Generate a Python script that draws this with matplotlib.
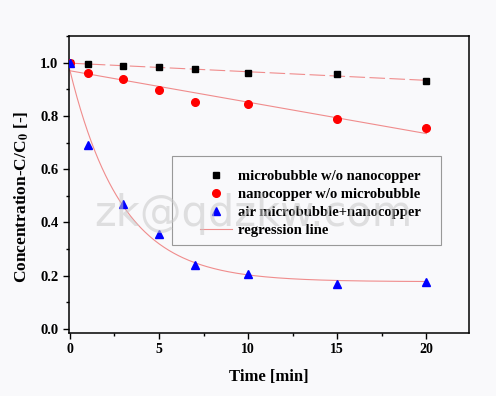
import numpy as np
import matplotlib
matplotlib.use("Agg")
import matplotlib.pyplot as plt
from matplotlib.ticker import MultipleLocator
from matplotlib.patches import Rectangle

plt.rcParams['font.family'] = ['Liberation Serif', 'DejaVu Serif']
plt.rcParams['font.weight'] = 'bold'
plt.rcParams['mathtext.fontset'] = 'stix'

time = [0, 1, 3, 5, 7, 10, 15, 20]
mb_only = [1.0, 0.995, 0.987, 0.982, 0.977, 0.960, 0.957, 0.931]
nc_only = [1.0, 0.962, 0.937, 0.899, 0.852, 0.844, 0.789, 0.755]
mb_nc = [1.0, 0.690, 0.469, 0.356, 0.242, 0.207, 0.168, 0.176]
labels = ["microbubble w/o nanocopper", "nanocopper w/o microbubble",
          "air microbubble+nanocopper", "regression line"]

t = np.array(time, float)

def linfit(y):
    return np.polyfit(t, np.array(y), 1)

def expfit(y):
    y = np.array(y)
    best = None
    for k in np.linspace(0.05, 1.5, 2000):
        A = np.vstack([np.ones_like(t), np.exp(-k * t)]).T
        coef, *_ = np.linalg.lstsq(A, y, rcond=None)
        r = np.sum((A @ coef - y) ** 2)
        if best is None or r < best[0]:
            best = (r, k, coef)
    return best[1], best[2]

bg = '#f9f9fb'
fig = plt.figure(figsize=(4.96, 3.96), dpi=100, facecolor=bg)
ax = fig.add_axes([0.139, 0.159, 0.807, 0.750])
ax.set_facecolor(bg)

tt = np.linspace(0, 20, 300)
lc = '#f08c8c'
p1 = linfit(mb_only)
ax.plot(tt, np.polyval(p1, tt), color=lc, lw=0.8, dashes=(14, 4), zorder=1)
p2 = linfit(nc_only)
ax.plot(tt, np.polyval(p2, tt), color=lc, lw=0.8, zorder=1)
k, c = expfit(mb_nc)
ax.plot(tt, c[0] + c[1] * np.exp(-k * tt), color=lc, lw=0.8, zorder=1)

ax.plot(time, mb_only, 's', color='black', ms=5, zorder=3, label=labels[0])
ax.plot(time, nc_only, 'o', color='red', ms=5.5, zorder=3, label=labels[1])
ax.plot(time, mb_nc, '^', color='blue', ms=6, zorder=4, label=labels[2])
ax.plot([], [], color=lc, lw=0.8, label=labels[3])

ax.set_xlim(-0.05, 22.4)
ax.set_ylim(-0.015, 1.1)
ax.xaxis.set_major_locator(MultipleLocator(5))
ax.xaxis.set_minor_locator(MultipleLocator(2.5))
ax.yaxis.set_major_locator(MultipleLocator(0.2))
ax.yaxis.set_minor_locator(MultipleLocator(0.1))
ax.yaxis.set_major_formatter(matplotlib.ticker.FormatStrFormatter('%.1f'))
ax.tick_params(which='both', direction='out', top=False, right=False, width=1.0)
ax.tick_params(axis='y', labelsize=10.5)
ax.tick_params(axis='x', labelsize=10)
ax.tick_params(which='major', length=4)
ax.tick_params(which='minor', length=2.5)
for s in ax.spines.values():
    s.set_linewidth(1.1)
for lab in ax.get_xticklabels() + ax.get_yticklabels():
    lab.set_fontweight('bold')

ax.set_xlabel('Time [min]', fontsize=12, fontweight='bold', labelpad=9)
ax.set_ylabel(r'Concentration-C/C$_\mathbf{0}$ [-]', fontsize=12.5, fontweight='bold')
ax.yaxis.set_label_coords(-0.094, 0.458)

ax.text(0.46, 0.40, 'zk@qdzkw.com', transform=ax.transAxes, fontsize=30,
        family='DejaVu Sans', fontweight='normal', color='#c8c8c8', alpha=0.55,
        ha='center', va='center', zorder=10)

ax.add_patch(Rectangle((0.2575, 0.296), 0.6725, 0.300, transform=ax.transAxes,
                       facecolor=bg, edgecolor='#999999', lw=0.8, zorder=2))
leg = ax.legend(loc='upper left', bbox_to_anchor=(0.3275, 0.55), frameon=False,
                handlelength=2.2, borderpad=0, labelspacing=0.33, handletextpad=0.4,
                borderaxespad=0, prop={'weight': 'bold', 'size': 10.5})
leg.set_zorder(5)
fig.savefig('out.png', dpi=100, facecolor=fig.get_facecolor())
